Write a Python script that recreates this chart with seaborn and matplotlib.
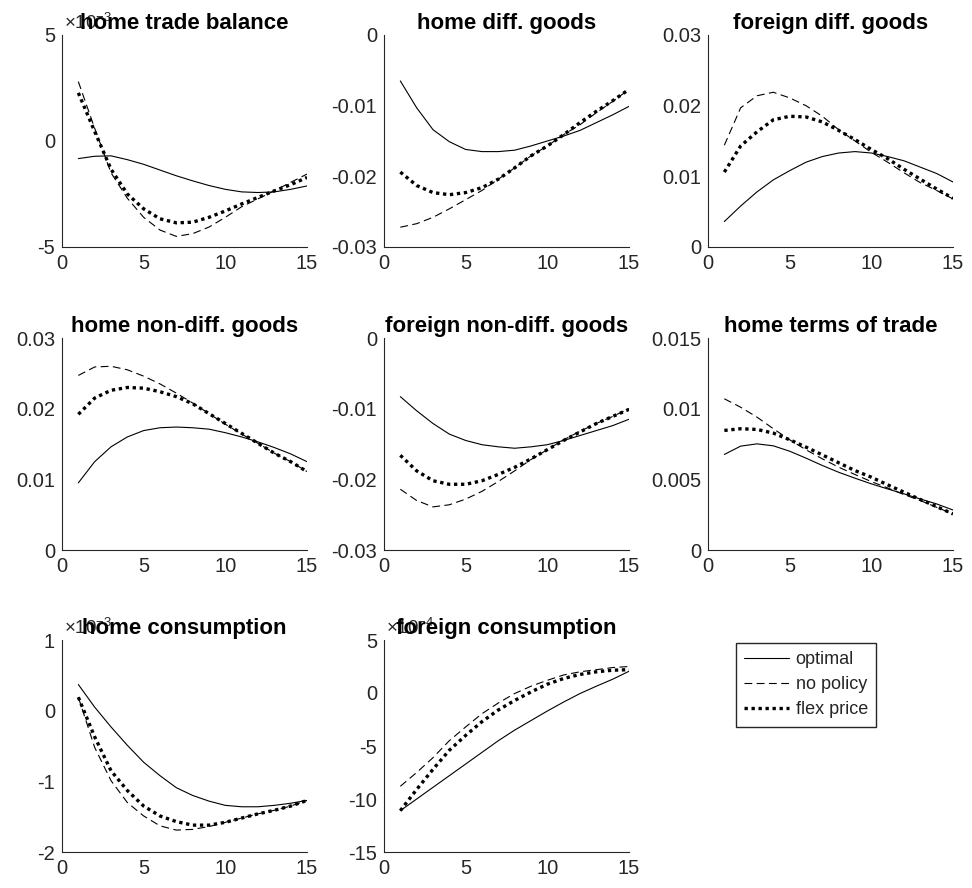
import numpy as np
import pandas as pd
import matplotlib
matplotlib.use('Agg')
import matplotlib.pyplot as plt
from matplotlib.ticker import FuncFormatter
import seaborn as sns

sns.set_style('white')
plt.rcParams['font.family'] = ['Liberation Sans', 'DejaVu Sans']
plt.rcParams['mathtext.fontset'] = 'custom'
plt.rcParams['mathtext.rm'] = 'Liberation Sans'
plt.rcParams['mathtext.it'] = 'Liberation Sans'
plt.rcParams['axes.unicode_minus'] = False

# horizon (quarters)
periods = list(range(1, 16))

# home trade balance (x 1e-3)
tb_opt = [-0.83, -0.72, -0.70, -0.88, -1.10, -1.37, -1.64, -1.88, -2.10, -2.28, -2.40, -2.43, -2.40, -2.28, -2.12]
tb_nopol = [2.80, 0.60, -1.50, -2.70, -3.60, -4.20, -4.50, -4.37, -4.06, -3.60, -3.10, -2.73, -2.35, -1.95, -1.56]
tb_flex = [2.27, 0.45, -1.33, -2.50, -3.20, -3.67, -3.86, -3.83, -3.60, -3.30, -2.97, -2.66, -2.35, -2.06, -1.72]

# home diff. goods
hd_opt = [-0.0065, -0.0103, -0.0134, -0.0151, -0.0162, -0.0165, -0.0165, -0.0163, -0.0157, -0.0150, -0.0143, -0.0135, -0.0124, -0.0113, -0.0101]
hd_nopol = [-0.0272, -0.0267, -0.0258, -0.0246, -0.0233, -0.0220, -0.0204, -0.0188, -0.0171, -0.0157, -0.0141, -0.0127, -0.0110, -0.0094, -0.0077]
hd_flex = [-0.0194, -0.0213, -0.0223, -0.0226, -0.0223, -0.0216, -0.0204, -0.0188, -0.0171, -0.0157, -0.0141, -0.0124, -0.0108, -0.0093, -0.0077]

# foreign diff. goods
fd_opt = [0.0036, 0.0058, 0.0078, 0.0095, 0.0108, 0.0120, 0.0128, 0.0133, 0.0135, 0.0133, 0.0128, 0.0122, 0.0113, 0.0104, 0.0092]
fd_nopol = [0.0144, 0.0197, 0.0214, 0.0219, 0.0211, 0.0200, 0.0185, 0.0166, 0.0150, 0.0134, 0.0120, 0.0105, 0.0091, 0.0080, 0.0068]
fd_flex = [0.0106, 0.0143, 0.0163, 0.0180, 0.0185, 0.0184, 0.0177, 0.0165, 0.0152, 0.0138, 0.0125, 0.0110, 0.0096, 0.0082, 0.0069]

# home non-diff. goods
hn_opt = [0.0095, 0.0125, 0.0146, 0.0160, 0.0169, 0.0173, 0.0174, 0.0173, 0.0171, 0.0166, 0.0160, 0.0153, 0.0145, 0.0136, 0.0125]
hn_nopol = [0.0247, 0.0259, 0.0260, 0.0255, 0.0246, 0.0235, 0.0222, 0.0208, 0.0193, 0.0178, 0.0164, 0.0151, 0.0137, 0.0125, 0.0111]
hn_flex = [0.0192, 0.0215, 0.0226, 0.0230, 0.0229, 0.0224, 0.0217, 0.0207, 0.0193, 0.0179, 0.0165, 0.0151, 0.0137, 0.0125, 0.0111]

# foreign non-diff. goods
fn_opt = [-0.0083, -0.0103, -0.0121, -0.0136, -0.0145, -0.0151, -0.0154, -0.0156, -0.0154, -0.0151, -0.0145, -0.0138, -0.0131, -0.0124, -0.0115]
fn_nopol = [-0.0214, -0.0230, -0.0239, -0.0236, -0.0228, -0.0217, -0.0203, -0.0188, -0.0172, -0.0158, -0.0144, -0.0132, -0.0121, -0.0111, -0.0100]
fn_flex = [-0.0166, -0.0188, -0.0202, -0.0207, -0.0207, -0.0202, -0.0193, -0.0183, -0.0171, -0.0158, -0.0145, -0.0133, -0.0121, -0.0111, -0.0101]

# home terms of trade
tt_opt = [0.00676, 0.00735, 0.00751, 0.00737, 0.00699, 0.00650, 0.00598, 0.00550, 0.00508, 0.00468, 0.00432, 0.00397, 0.00361, 0.00326, 0.00283]
tt_nopol = [0.0107, 0.0101, 0.0094, 0.00858, 0.00780, 0.00709, 0.00645, 0.00586, 0.00534, 0.00484, 0.00439, 0.00392, 0.00350, 0.00302, 0.00255]
tt_flex = [0.00846, 0.00858, 0.00853, 0.00827, 0.00780, 0.00728, 0.00673, 0.00617, 0.00562, 0.00515, 0.00461, 0.00409, 0.00357, 0.00307, 0.00255]

# home consumption (x 1e-3)
hc_opt = [0.37, 0.05, -0.23, -0.49, -0.73, -0.92, -1.09, -1.20, -1.28, -1.34, -1.36, -1.36, -1.34, -1.31, -1.27]
hc_nopol = [0.19, -0.52, -0.99, -1.30, -1.49, -1.63, -1.69, -1.68, -1.64, -1.58, -1.52, -1.46, -1.41, -1.35, -1.27]
hc_flex = [0.19, -0.37, -0.85, -1.13, -1.35, -1.49, -1.57, -1.62, -1.62, -1.58, -1.52, -1.46, -1.41, -1.35, -1.27]

# foreign consumption (x 1e-4)
fc_opt = [-11.1, -10.0, -8.9, -7.8, -6.7, -5.6, -4.5, -3.5, -2.6, -1.7, -0.85, -0.05, 0.64, 1.3, 2.05]
fc_nopol = [-8.8, -7.5, -6.1, -4.5, -3.2, -1.95, -0.94, -0.05, 0.64, 1.2, 1.7, 2.0, 2.2, 2.4, 2.5]
fc_flex = [-11.1, -9.1, -7.2, -5.4, -4.0, -2.7, -1.6, -0.7, 0.1, 0.83, 1.37, 1.75, 2.0, 2.15, 2.2]

titles = ['home trade balance', 'home diff. goods', 'foreign diff. goods',
          'home non-diff. goods', 'foreign non-diff. goods', 'home terms of trade',
          'home consumption', 'foreign consumption']
series = [(tb_opt, tb_nopol, tb_flex), (hd_opt, hd_nopol, hd_flex), (fd_opt, fd_nopol, fd_flex),
          (hn_opt, hn_nopol, hn_flex), (fn_opt, fn_nopol, fn_flex), (tt_opt, tt_nopol, tt_flex),
          (hc_opt, hc_nopol, hc_flex), (fc_opt, fc_nopol, fc_flex)]
yticks = [[-5, 0, 5], [-0.03, -0.02, -0.01, 0], [0, 0.01, 0.02, 0.03],
          [0, 0.01, 0.02, 0.03], [-0.03, -0.02, -0.01, 0], [0, 0.005, 0.01, 0.015],
          [-2, -1, 0, 1], [-15, -10, -5, 0, 5]]
multipliers = [r'$\times10^{-3}$', None, None, None, None, None, r'$\times10^{-3}$', r'$\times10^{-4}$']
labels = ['optimal', 'no policy', 'flex price']

W, H = 972, 888
col_left = [62, 384, 708]
row_top = [35, 338, 640]
ax_w, ax_h = 245, 212
grey = '#262626'

fig = plt.figure(figsize=(W / 100, H / 100), dpi=100)

styles = [dict(lw=0.8, linestyle='-'),
          dict(lw=0.8, linestyle=(0, (7, 4))),
          dict(lw=2.4, linestyle=(0, (1, 1.1)))]

handles = []
for i, title in enumerate(titles):
    r, c = divmod(i, 3)
    ax = fig.add_axes([col_left[c] / W, 1 - (row_top[r] + ax_h) / H, ax_w / W, ax_h / H])
    df = pd.DataFrame({'t': periods})
    for lab, vals, st in zip(labels, series[i], styles):
        df[lab] = vals
        sns.lineplot(x='t', y=lab, data=df, ax=ax, color='black', **st)
    if i == 0:
        handles = ax.get_lines()
    ax.set_xlim(0, 15)
    ax.set_xticks([0, 5, 10, 15])
    ax.set_ylim(yticks[i][0], yticks[i][-1])
    ax.set_yticks(yticks[i])
    ax.yaxis.set_major_formatter(FuncFormatter(lambda v, p: '%g' % v))
    ax.set_xlabel('')
    ax.set_ylabel('')
    for s in ['top', 'right']:
        ax.spines[s].set_visible(False)
    for s in ['left', 'bottom']:
        ax.spines[s].set_color(grey)
        ax.spines[s].set_linewidth(0.8)
    ax.tick_params(direction='in', length=3, width=0.8, colors=grey, labelsize=14.5, pad=5)
    if multipliers[i]:
        ax.text(0.01, 1.01, multipliers[i], transform=ax.transAxes, ha='left', va='bottom',
                fontsize=13.5, color=grey)
    ax.set_title(title, fontsize=16, fontweight='bold', color='black', pad=4, zorder=5)

fig.legend(handles, labels, loc='upper left', bbox_to_anchor=(736 / W, 1 - 643 / H),
           fontsize=13, frameon=True, fancybox=False, edgecolor=grey, framealpha=1,
           handlelength=2.5, handletextpad=0.35, labelspacing=0.45, borderpad=0.45,
           borderaxespad=0)

fig.savefig('out.png', dpi=100, facecolor='white')
